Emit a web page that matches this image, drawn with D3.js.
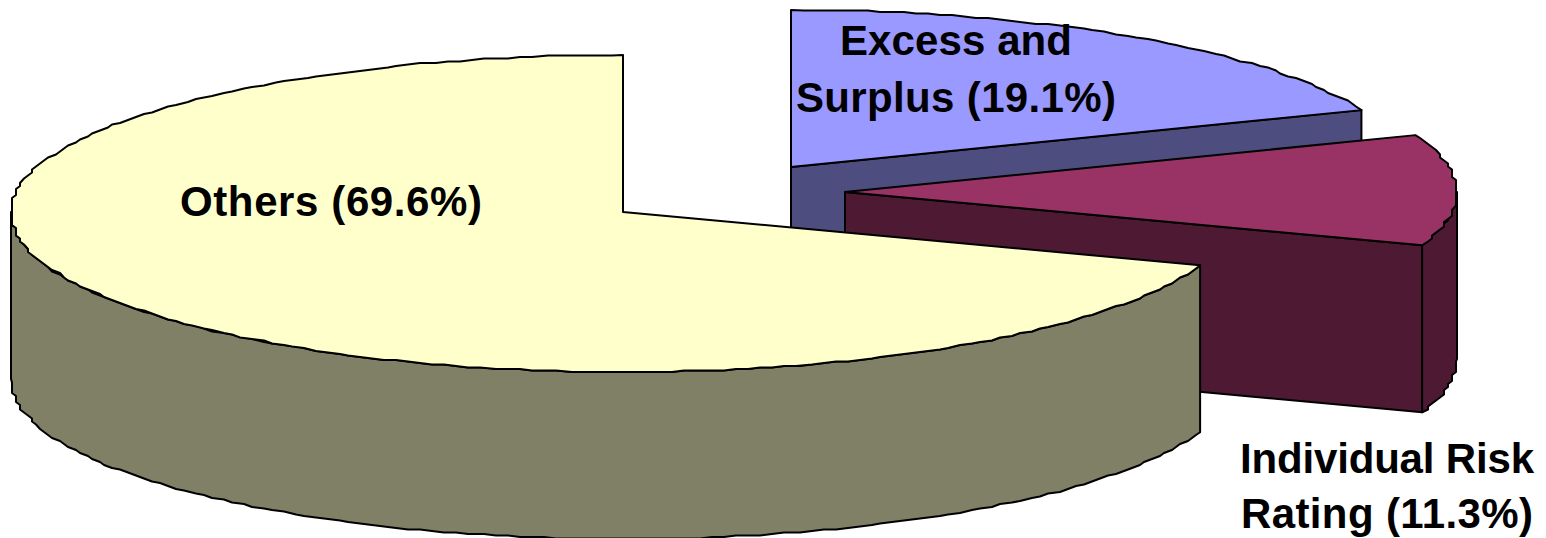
<!DOCTYPE html>
<html>
<head>
<meta charset="utf-8">
<style>
  html, body { margin: 0; padding: 0; background: #fff; overflow: hidden; }
  text { font-family: "Liberation Sans", Arial, sans-serif; font-weight: 700; font-size: 42px; fill: #000; }
</style>
<script src="https://cdn.jsdelivr.net/npm/d3@7"></script>
</head>
<body>
<svg id="chart" width="1546" height="538"></svg>
<script>
// Premium share by rating segment, clockwise from twelve o'clock
const categories = ["Excess and Surplus", "Individual Risk Rating", "Others"];
const shares = [19.1, 11.3, 69.6];
const labelLines = [
  ["Excess and", "Surplus (19.1%)"],
  ["Individual Risk", "Rating (11.3%)"],
  ["Others (69.6%)"]
];
const topColors = ["#9999FF", "#993366", "#FFFFCC"];
const sideColors = ["#4D4D80", "#4D1933", "#808066"];

// Tilted-disc projection and the exploded centre of each wedge
const rx = 612, ryFar = 157, ryNear = 160, depth = 167;
const centres = [[791, 167], [845, 192], [623, 212]];
const labelPlace = [
  { x: 956, y: 55, step: 57, widths: [232, 320] },
  { x: 1387, y: 473, step: 55, widths: [294, 292] },
  { x: 331, y: 216, step: 0, widths: [302] }
];

const svg = d3.select("#chart");
const wedges = d3.pie().sort(null).value(d => d)(shares);
const line = d3.line();

// The rim is drawn as a coarse stepped polyline, snapped to a small grid
const snap = (v, g) => Math.round(v / g) * g;
function rim(c, a0, a1, dy = 0) {
  const n = Math.max(2, Math.ceil(Math.abs(a1 - a0) / (Math.PI / 150)));
  const at = d3.scaleLinear().domain([0, n]).range([a0, a1]);
  return d3.range(n + 1).map(i => {
    const a = at(i);
    const cos = Math.cos(a);
    const x = c[0] + rx * Math.sin(a);
    const y = c[1] - (cos > 0 ? ryFar : ryNear) * cos + dy;
    const ends = i === 0 || i === n;
    return ends ? [x, y] : [snap(x, 4), snap(y, 1.5)];
  });
}
const paint = (pts, fill) => svg.append("path")
  .attr("d", line(pts) + "Z")
  .attr("fill", fill)
  .attr("stroke", "#000")
  .attr("stroke-width", 2)
  .attr("stroke-linejoin", "round");

wedges.forEach((w, i) => {
  const c = centres[i];
  const a0 = w.startAngle, a1 = w.endAngle;
  const end = rim(c, a1, a1)[0];

  // Cut face along the trailing radius, when it looks towards the viewer
  if (a1 < Math.PI) {
    paint([c, end, [end[0], end[1] + depth], [c[0], c[1] + depth]], sideColors[i]);
  }
  // Outer wall: only the part of the rim on the near half of the disc
  const from = Math.max(a0, Math.PI / 2);
  const to = Math.min(a1, 3 * Math.PI / 2);
  if (to > from) {
    const upper = rim(c, from, to);
    const lower = rim(c, to, from, depth);
    paint(upper.concat(lower), sideColors[i]);
  }
  // Top surface
  paint([c].concat(rim(c, a0, a1)), topColors[i]);
});

// Labels, centred and fitted to their measured run lengths
labelLines.forEach((lines, i) => {
  const p = labelPlace[i];
  lines.forEach((t, k) => {
    svg.append("text")
      .attr("x", p.x)
      .attr("y", p.y + k * p.step)
      .attr("text-anchor", "middle")
      .attr("textLength", p.widths[k])
      .attr("lengthAdjust", "spacing")
      .text(t);
  });
});
</script>
</body>
</html>
